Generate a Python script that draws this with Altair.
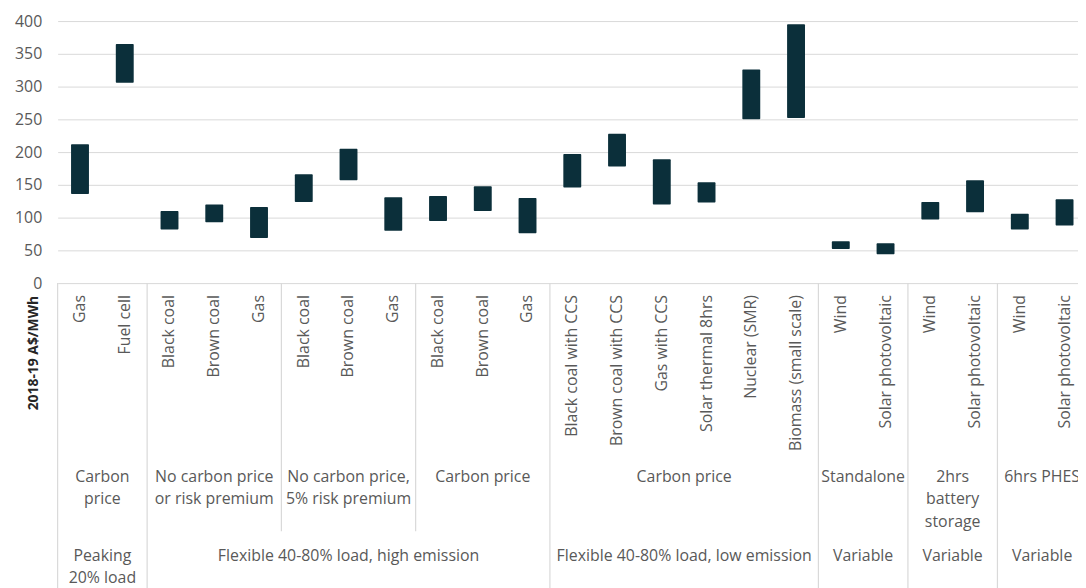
import altair as alt
import pandas as pd

# ---- data ----
tech = ["Gas", "Fuel cell",
        "Black coal", "Brown coal", "Gas",
        "Black coal", "Brown coal", "Gas",
        "Black coal", "Brown coal", "Gas",
        "Black coal with CCS", "Brown coal with CCS", "Gas with CCS",
        "Solar thermal 8hrs", "Nuclear (SMR)", "Biomass (small scale)",
        "Wind", "Solar photovoltaic",
        "Wind", "Solar photovoltaic",
        "Wind", "Solar photovoltaic"]
low = [136, 306, 82, 93, 69, 124, 157, 80, 95, 110, 76,
       146, 178, 120, 123, 250, 252, 52, 44, 97, 108, 82, 88]
high = [212, 365, 110, 120, 116, 166, 205, 131, 133, 148, 130,
        197, 228, 189, 154, 326, 395, 64, 61, 124, 157, 106, 128]

sub_labels = ["Carbon\nprice", "No carbon price\nor risk premium",
              "No carbon price,\n5% risk premium", "Carbon price",
              "Carbon price", "Standalone", "2hrs\nbattery\nstorage", "6hrs PHES"]
sub_sizes = [2, 3, 3, 3, 6, 2, 2, 2]
main_labels = ["Peaking\n20% load", "Flexible 40-80% load, high emission",
               "Flexible 40-80% load, low emission", "Variable", "Variable", "Variable"]
main_sizes = [2, 9, 6, 2, 2, 2]

y_ticks = [0, 50, 100, 150, 200, 250, 300, 350, 400]

# ---- tables ----
ids = [f"{i:02d}" for i in range(len(tech))]
bars = pd.DataFrame({"id": ids, "tech": tech, "low": low, "high": high})


def group_tables(labels, sizes):
    even, odd, starts = [], [], []
    s = 0
    for lab, n in zip(labels, sizes):
        starts.append(ids[s])
        if n % 2 == 0:
            even.append({"id": ids[s + n // 2], "label": lab})
        else:
            odd.append({"id": ids[s + n // 2], "label": lab})
        s += n
    return pd.DataFrame(even), pd.DataFrame(odd), starts


sub_even, sub_odd, sub_starts = group_tables(sub_labels, sub_sizes)
main_even, main_odd, main_starts = group_tables(main_labels, main_sizes)
full_sep = pd.DataFrame({"id": main_starts})
part_sep = pd.DataFrame({"id": [i for i in sub_starts if i not in main_starts]})

FONT = "Open Sans"
GRAY = "#595959"
LINE = "#d9d9d9"
BAR = "#0b2f3a"

xscale = alt.Scale(domain=ids, range=[0, 1037], paddingInner=0, paddingOuter=0)


def X(band=0.5):
    return alt.X("id:N", scale=xscale, axis=None, bandPosition=band)


bar_layer = alt.Chart(bars).mark_bar(
    color=BAR, width=alt.RelativeBandSize(0.4), cornerRadius=1
).encode(
    x=alt.X("id:N", scale=xscale, axis=None),
    y=alt.Y("low:Q", scale=alt.Scale(domain=[0, 400], nice=False),
            axis=alt.Axis(values=y_ticks, title="2018-19 A$/MWh",
                          grid=True, gridColor=LINE, gridWidth=1,
                          domain=False, ticks=False,
                          labelFont=FONT, labelFontSize=16, labelColor=GRAY,
                          labelPadding=16,
                          titleFont=FONT, titleFontSize=14, titleFontWeight="bold",
                          titleColor="#262626", titleAngle=270,
                          titleX=-24, titleY=334, titleAlign="center",
                          titleBaseline="middle")),
    y2="high:Q",
)

item_labels = alt.Chart(bars).mark_text(
    angle=270, align="right", baseline="middle",
    font=FONT, fontSize=16, color=GRAY
).encode(x=X(0.5), y=alt.value(276), text="tech:N")

txt = dict(font=FONT, fontSize=16, color=GRAY, align="center", baseline="top",
           lineBreak="\n")

sub_e = alt.Chart(sub_even).mark_text(lineHeight=23, **txt).encode(
    x=X(0), y=alt.value(451), text="label:N")
sub_o = alt.Chart(sub_odd).mark_text(lineHeight=23, **txt).encode(
    x=X(0.5), y=alt.value(451), text="label:N")
main_e = alt.Chart(main_even).mark_text(lineHeight=22, **txt).encode(
    x=X(0), y=alt.value(531), text="label:N")
main_o = alt.Chart(main_odd).mark_text(lineHeight=22, **txt).encode(
    x=X(0.5), y=alt.value(531), text="label:N")

full_rules = alt.Chart(full_sep).mark_rule(color=LINE, strokeWidth=1.2).encode(
    x=X(0), y=alt.value(264), y2=alt.value(600))
part_rules = alt.Chart(part_sep).mark_rule(color=LINE, strokeWidth=1.2).encode(
    x=X(0), y=alt.value(264), y2=alt.value(514))

chart = alt.layer(
    full_rules, part_rules, bar_layer, item_labels, sub_e, sub_o, main_e, main_o
).properties(
    width=1028, height=264,
    autosize=alt.AutoSizeParams(type="none"),
    padding={"left": 50, "top": 11, "right": 0, "bottom": 305},
    background="white",
).configure_view(stroke=None)

chart.save("out.html", embed_options={"renderer": "svg", "actions": False})
